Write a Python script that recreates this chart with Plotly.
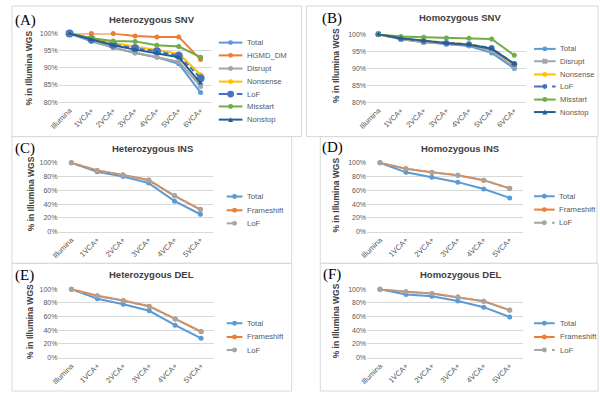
import plotly.graph_objects as go

W, H = 600, 395

# ---------------- data ----------------
snv_cats = ["Illumina", "1VCA+", "2VCA+", "3VCA+", "4VCA+", "5VCA+", "6VCA+"]
indel_cats = ["Illumina", "1VCA+", "2VCA+", "3VCA+", "4VCA+", "5VCA+"]

# (A) Heterozygous SNV
het_snv_total = [1.000, 0.977, 0.959, 0.943, 0.931, 0.912, 0.828]
het_snv_hgmd = [1.000, 1.000, 1.000, 0.993, 0.990, 0.990, 0.924]
het_snv_disrupt = [1.000, 0.978, 0.958, 0.944, 0.932, 0.918, 0.846]
het_snv_nonsense = [1.000, 0.985, 0.972, 0.962, 0.952, 0.941, 0.880]
het_snv_lof = [1.000, 0.983, 0.967, 0.957, 0.948, 0.935, 0.870]
het_snv_misstart = [1.000, 0.986, 0.978, 0.977, 0.966, 0.962, 0.931]
het_snv_nonstop = [1.000, 0.982, 0.966, 0.953, 0.943, 0.931, 0.855]

# (B) Homozygous SNV
hom_snv_total = [1.000, 0.985, 0.977, 0.970, 0.965, 0.945, 0.899]
hom_snv_disrupt = [1.000, 0.985, 0.976, 0.972, 0.967, 0.952, 0.903]
hom_snv_nonsense = [1.000, 0.987, 0.980, 0.974, 0.970, 0.958, 0.910]
hom_snv_lof = [1.000, 0.987, 0.980, 0.974, 0.970, 0.959, 0.912]
hom_snv_misstart = [1.000, 0.993, 0.991, 0.989, 0.988, 0.986, 0.938]
hom_snv_nonstop = [1.000, 0.988, 0.981, 0.973, 0.969, 0.957, 0.913]

# (C) Heterozygous INS
het_ins_total = [1.000, 0.870, 0.800, 0.705, 0.443, 0.252]
het_ins_frameshift = [1.000, 0.890, 0.825, 0.750, 0.520, 0.320]
het_ins_lof = [1.000, 0.890, 0.820, 0.745, 0.520, 0.325]

# (D) Homozygous INS
hom_ins_total = [1.000, 0.862, 0.790, 0.719, 0.619, 0.490]
hom_ins_frameshift = [1.000, 0.914, 0.862, 0.819, 0.748, 0.629]
hom_ins_lof = [1.000, 0.913, 0.861, 0.818, 0.746, 0.627]

# (E) Heterozygous DEL
het_del_total = [1.000, 0.861, 0.780, 0.684, 0.474, 0.282]
het_del_frameshift = [1.000, 0.904, 0.833, 0.751, 0.565, 0.378]
het_del_lof = [1.000, 0.900, 0.830, 0.748, 0.565, 0.380]

# (F) Homozygous DEL
hom_del_total = [1.000, 0.923, 0.895, 0.828, 0.737, 0.593]
hom_del_frameshift = [1.000, 0.962, 0.938, 0.885, 0.823, 0.694]
hom_del_lof = [1.000, 0.961, 0.937, 0.884, 0.822, 0.693]

# ---------------- styles ----------------
C_TOTAL = "#5B9BD5"
C_ORANGE = "#ED7D31"
C_GRAY = "#A5A5A5"
C_GOLD = "#FFC000"
C_BLUE = "#4472C4"
C_GREEN = "#70AD47"
C_NAVY = "#255E91"
DASH = "5px,3px"

FONT = "Liberation Sans, Arial, sans-serif"
TXT = "#595959"
GRID = "#D9D9D9"


def px(x):
    return x / W


def py(y):
    return 1 - y / H


fig = go.Figure()
shapes = []
annotations = []

# series: (name, values, color, dash, marker size, marker symbol)
panels = [
    dict(label="(A)", title="Heterozygous SNV", cats=snv_cats,
         series=[("Total", het_snv_total, C_TOTAL, None, 5, "circle"),
                 ("HGMD_DM", het_snv_hgmd, C_ORANGE, None, 5, "circle"),
                 ("Disrupt", het_snv_disrupt, C_GRAY, None, 5, "circle"),
                 ("Nonsense", het_snv_nonsense, C_GOLD, None, 5, "circle"),
                 ("LoF", het_snv_lof, C_BLUE, DASH, 8, "circle"),
                 ("Misstart", het_snv_misstart, C_GREEN, None, 5, "circle"),
                 ("Nonstop", het_snv_nonstop, C_NAVY, None, 5, "triangle-up")],
         yr=[0.8, 1.0], dt=0.05,
         box=(3, 2, 297, 135), plot=(50.4, 30, 205.6, 100),
         lab=(4, 17), tit=(145, 16), ytit=(20, 65),
         leg=(213, 237, 240, [39.3, 52.3, 65.7, 79, 91.7, 104.3, 117.7])),
    dict(label="(B)", title="Homozygous SNV", cats=snv_cats,
         series=[("Total", hom_snv_total, C_TOTAL, None, 5, "circle"),
                 ("Disrupt", hom_snv_disrupt, C_GRAY, None, 5, "square"),
                 ("Nonsense", hom_snv_nonsense, C_GOLD, None, 5, "circle"),
                 ("LoF", hom_snv_lof, C_BLUE, DASH, 6, "circle"),
                 ("Misstart", hom_snv_misstart, C_GREEN, None, 5, "circle"),
                 ("Nonstop", hom_snv_nonstop, C_NAVY, None, 5, "triangle-up")],
         yr=[0.8, 1.0], dt=0.05,
         box=(302, 2, 598, 135), plot=(363.5, 30.7, 524.5, 100),
         lab=(316, 15), tit=(457.5, 14), ytit=(332, 63),
         leg=(533, 555, 557, [45.7, 58.3, 71.7, 84, 97.3, 110])),
    dict(label="(C)", title="Heterozygous INS", cats=indel_cats,
         series=[("Total", het_ins_total, C_TOTAL, None, 5, "circle"),
                 ("Frameshift", het_ins_frameshift, C_ORANGE, None, 5, "circle"),
                 ("LoF", het_ins_lof, C_GRAY, DASH, 5, "circle")],
         yr=[0.0, 1.0], dt=0.2,
         box=(3, 135, 287, 264), plot=(50.2, 161.7, 207.4, 231.7),
         lab=(4, 147), tit=(145.5, 146.7), ytit=(22, 193),
         leg=(221, 237, 240, [196, 210, 223.3])),
    dict(label="(D)", title="Homozygous INS", cats=indel_cats,
         series=[("Total", hom_ins_total, C_TOTAL, None, 5, "circle"),
                 ("Frameshift", hom_ins_frameshift, C_ORANGE, None, 5, "circle"),
                 ("LoF", hom_ins_lof, C_GRAY, DASH, 5, "circle")],
         yr=[0.0, 1.0], dt=0.2,
         box=(316, 135, 597, 264), plot=(363.5, 161.7, 521.5, 231.7),
         lab=(316, 146), tit=(457.5, 147.3), ytit=(332, 195),
         leg=(533, 554, 556, [195.7, 209.3, 222.7])),
    dict(label="(E)", title="Heterozygous DEL", cats=indel_cats,
         series=[("Total", het_del_total, C_TOTAL, None, 5, "circle"),
                 ("Frameshift", het_del_frameshift, C_ORANGE, None, 5, "circle"),
                 ("LoF", het_del_lof, C_GRAY, DASH, 5, "circle")],
         yr=[0.0, 1.0], dt=0.2,
         box=(3, 264, 287, 394), plot=(50.2, 290.3, 208.2, 360),
         lab=(4, 276.7), tit=(145, 275.7), ytit=(22, 323),
         leg=(221, 237, 240, [325, 339, 352.3])),
    dict(label="(F)", title="Homozygous DEL", cats=indel_cats,
         series=[("Total", hom_del_total, C_TOTAL, None, 5, "circle"),
                 ("Frameshift", hom_del_frameshift, C_ORANGE, None, 5, "circle"),
                 ("LoF", hom_del_lof, C_GRAY, DASH, 5, "circle")],
         yr=[0.0, 1.0], dt=0.2,
         box=(316, 264, 598, 394), plot=(363.5, 290.3, 521.5, 360),
         lab=(317, 275), tit=(458, 275.7), ytit=(332, 323),
         leg=(533, 554, 557, [325, 339, 352.3])),
]

layout_axes = {}
for i, p in enumerate(panels):
    n = i + 1
    xa = "x" if n == 1 else f"x{n}"
    ya = "y" if n == 1 else f"y{n}"
    xkey = "xaxis" if n == 1 else f"xaxis{n}"
    ykey = "yaxis" if n == 1 else f"yaxis{n}"
    x0, y0, x1, y1 = p["plot"]
    ncat = len(p["cats"])
    layout_axes[xkey] = dict(
        domain=[px(x0), px(x1)], anchor=ya, type="category",
        categoryorder="array", categoryarray=p["cats"],
        range=[-0.5, ncat - 0.5], tickangle=-45, showgrid=False,
        showline=True, linecolor=GRID, linewidth=1, ticks="",
        tickfont=dict(family=FONT, size=7.5, color=TXT), fixedrange=True)
    layout_axes[ykey] = dict(
        domain=[py(y1), py(y0)], anchor=xa, range=p["yr"], dtick=p["dt"],
        tick0=0, tickformat=".0%", showgrid=True, gridcolor=GRID,
        gridwidth=1, zeroline=False, showline=False, ticks="",
        tickfont=dict(family=FONT, size=7, color=TXT), fixedrange=True)

    for (name, vals, col, dash, msz, sym) in p["series"]:
        fig.add_trace(go.Scatter(
            x=p["cats"], y=vals, xaxis=xa, yaxis=ya, mode="lines+markers",
            name=name, showlegend=False, cliponaxis=False, hoverinfo="skip",
            line=dict(color=col, width=2, dash=dash) if dash else dict(color=col, width=2),
            marker=dict(color=col, size=msz, symbol=sym)))

    # panel box
    bx0, by0, bx1, by1 = p["box"]
    shapes.append(dict(type="rect", xref="paper", yref="paper",
                       x0=px(bx0), x1=px(bx1), y0=py(by1), y1=py(by0),
                       line=dict(color=GRID, width=1), layer="below"))
    # panel letter
    annotations.append(dict(text=p["label"], xref="paper", yref="paper",
                            x=px(p["lab"][0]), y=py(p["lab"][1]), xanchor="left",
                            yanchor="middle", showarrow=False,
                            font=dict(family="Liberation Serif, Times New Roman, serif",
                                      size=15, color="#000000")))
    # title
    annotations.append(dict(text="<b>" + p["title"] + "</b>", xref="paper", yref="paper",
                            x=px(p["tit"][0]), y=py(p["tit"][1]), xanchor="center",
                            yanchor="middle", showarrow=False,
                            font=dict(family=FONT, size=9.5, color="#404040")))
    # y title
    annotations.append(dict(text="<b>% in Illumina WGS</b>", xref="paper", yref="paper",
                            x=px(p["ytit"][0]), y=py(p["ytit"][1]), xanchor="center",
                            yanchor="middle", textangle=-90, showarrow=False,
                            font=dict(family=FONT, size=8.5, color="#404040")))
    # legend (decoration)
    lx0, lx1, ltx, lys = p["leg"]
    for (name, vals, col, dash, msz, sym), ly in zip(p["series"], lys):
        ln = dict(color=col, width=2)
        if dash:
            ln["dash"] = "dash"
        shapes.append(dict(type="line", xref="paper", yref="paper",
                           x0=px(lx0), x1=px(lx1), y0=py(ly), y1=py(ly), line=ln))
        cx = (lx0 + lx1) / 2
        r = 2.5 if msz <= 6 else 3.5
        if sym == "square":
            shapes.append(dict(type="rect", xref="paper", yref="paper",
                               x0=px(cx - r), x1=px(cx + r), y0=py(ly + r), y1=py(ly - r),
                               fillcolor=col, line=dict(color=col, width=0)))
        elif sym == "triangle-up":
            path = (f"M {px(cx - r)},{py(ly + r)} L {px(cx + r)},{py(ly + r)} "
                    f"L {px(cx)},{py(ly - r)} Z")
            shapes.append(dict(type="path", xref="paper", yref="paper", path=path,
                               fillcolor=col, line=dict(color=col, width=0)))
        else:
            shapes.append(dict(type="circle", xref="paper", yref="paper",
                               x0=px(cx - r), x1=px(cx + r), y0=py(ly + r), y1=py(ly - r),
                               fillcolor=col, line=dict(color=col, width=0)))
        annotations.append(dict(text=name, xref="paper", yref="paper",
                                x=px(ltx), y=py(ly), xanchor="left", yanchor="middle",
                                showarrow=False,
                                font=dict(family=FONT, size=7.7, color=TXT)))

fig.update_layout(
    width=W, height=H, margin=dict(l=0, r=0, t=0, b=0),
    paper_bgcolor="#FFFFFF", plot_bgcolor="#FFFFFF",
    showlegend=False, shapes=shapes, annotations=annotations,
    hovermode=False, **layout_axes)

fig.write_html("out.html", config={"displayModeBar": False},
               post_script="document.body.style.margin='0';document.body.style.overflow='hidden';")
